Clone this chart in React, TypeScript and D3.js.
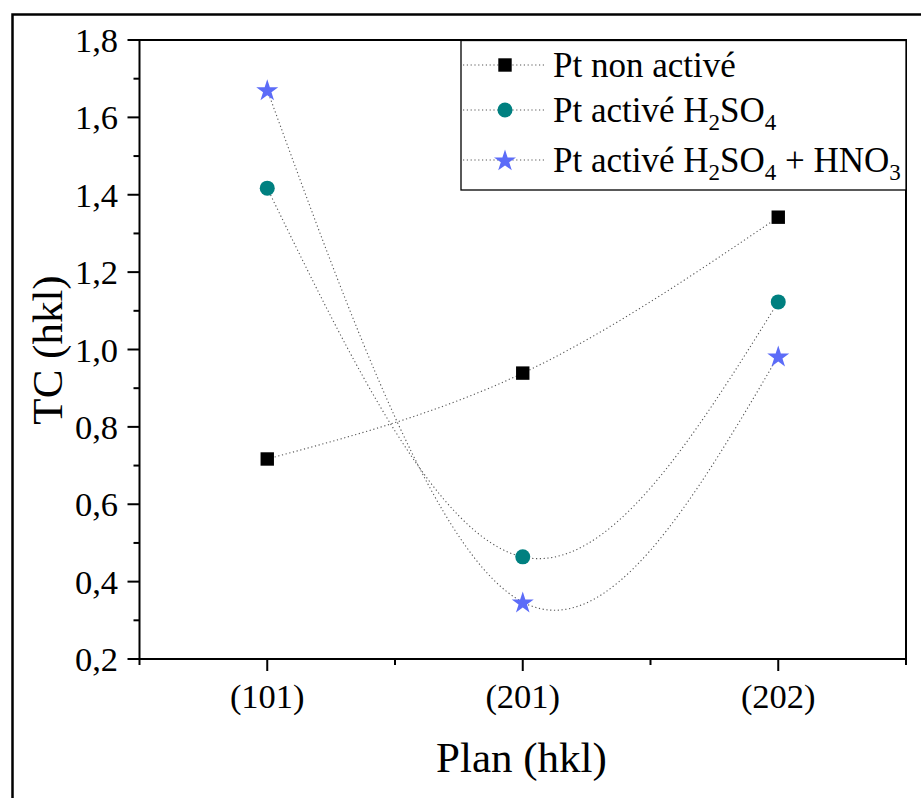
import React from "react";
import * as d3 from "d3";

const categories = ["(101)", "(201)", "(202)"];
const ptNonActive = [0.717, 0.939, 1.342];
const ptH2SO4 = [1.417, 0.464, 1.123];
const ptH2SO4HNO3 = [1.671, 0.347, 0.983];
const yTicks = [0.2, 0.4, 0.6, 0.8, 1.0, 1.2, 1.4, 1.6, 1.8];
const yMinorTicks = [0.3, 0.5, 0.7, 0.9, 1.1, 1.3, 1.5, 1.7];

const TXT = { fontFamily: "Liberation Serif, Times New Roman, serif" };

const series = [
  { key: "non", values: ptNonActive, color: "#000000", marker: "square" },
  { key: "h2so4", values: ptH2SO4, color: "#008080", marker: "circle" },
  { key: "hno3", values: ptH2SO4HNO3, color: "#5c6cf8", marker: "star" },
];

const W = 921;
const H = 798;
const left = 139.5;
const right = 906;
const top = 40;
const bottom = 659;

const x = d3.scaleLinear().domain([0.5, categories.length + 0.5]).range([left, right]);
const y = d3.scaleLinear().domain([0.2, 1.8]).range([bottom, top]);

const starPath = d3.symbol(d3.symbolStar, 150)() as string;

function Marker({ type, cx, cy, color }: { type: string; cx: number; cy: number; color: string }) {
  if (type === "square") return <rect x={cx - 6.7} y={cy - 6.7} width={13.4} height={13.4} fill={color} />;
  if (type === "circle") return <circle cx={cx} cy={cy} r={7.5} fill={color} />;
  return <path d={starPath} transform={`translate(${cx},${cy + 1})`} fill={color} />;
}

export default function App() {
  const line = d3
    .line<number>()
    .x((_, i) => x(i + 1))
    .y((d) => y(d))
    .curve(d3.curveNatural);

  const fmt = (v: number) => v.toFixed(1).replace(".", ",");
  const minorX = d3.range(0.5, categories.length + 1, 1);

  const legendRows = [
    { s: series[0], my: 65, ty: 77 },
    { s: series[1], my: 110, ty: 122 },
    { s: series[2], my: 160, ty: 172 },
  ];
  const sub = (t: string) => (
    <tspan dy={8} fontSize={23}>
      {t}
    </tspan>
  );
  const up = (t: string) => <tspan dy={-8}>{t}</tspan>;

  return (
    <svg width={W} height={H} style={{ position: "absolute", left: 0, top: 0, background: "#fff", ...TXT }}>
      <rect x={0} y={0} width={W} height={H} fill="#fff" />
      {/* outer frame */}
      <rect x={12.5} y={14.5} width={1000} height={1000} fill="none" stroke="#000" strokeWidth={2.5} />

      {/* series lines */}
      {series.map((s) => (
        <path
          key={s.key + "l"}
          d={line(s.values) as string}
          fill="none"
          stroke="#555"
          strokeWidth={1.1}
          strokeDasharray="1.2,2.6"
        />
      ))}

      {/* axes frame */}
      <rect x={left} y={top} width={right - left} height={bottom - top} fill="none" stroke="#000" strokeWidth={2} />

      {/* y ticks */}
      {yTicks.map((t) => (
        <g key={"yt" + t}>
          <line x1={left - 12} x2={left} y1={y(t)} y2={y(t)} stroke="#000" strokeWidth={2} />
          <text x={118} y={y(t) + 12} textAnchor="end" fontSize={34.5} style={TXT}>
            {fmt(t)}
          </text>
        </g>
      ))}
      {yMinorTicks.map((t) => (
        <line key={"ym" + t} x1={left - 6} x2={left} y1={y(t)} y2={y(t)} stroke="#000" strokeWidth={2} />
      ))}

      {/* x ticks */}
      {categories.map((c, i) => (
        <g key={c}>
          <line x1={x(i + 1)} x2={x(i + 1)} y1={bottom} y2={bottom + 12} stroke="#000" strokeWidth={2} />
          <text x={x(i + 1)} y={708} textAnchor="middle" fontSize={34.5} style={TXT}>
            {c}
          </text>
        </g>
      ))}
      {minorX.map((t) => (
        <line key={"xm" + t} x1={x(t)} x2={x(t)} y1={bottom} y2={bottom + 6} stroke="#000" strokeWidth={2} />
      ))}

      {/* markers */}
      {series.map((s) =>
        s.values.map((v, i) => (
          <Marker key={s.key + i} type={s.marker} cx={x(i + 1)} cy={y(v)} color={s.color} />
        ))
      )}

      {/* axis titles */}
      <text x={521.5} y={772} textAnchor="middle" fontSize={43} style={TXT}>
        Plan (hkl)
      </text>
      <text transform="translate(62,350) rotate(-90)" textAnchor="middle" fontSize={43} style={TXT}>
        TC (hkl)
      </text>

      {/* legend */}
      <rect x={461} y={40.5} width={right - 461} height={149.5} fill="#fff" stroke="#000" strokeWidth={1.3} />
      {legendRows.map(({ s, my }) => (
        <g key={"lg" + s.key}>
          <line x1={463} x2={545} y1={my} y2={my} stroke="#555" strokeWidth={1.1} strokeDasharray="1.2,2.6" />
          <Marker type={s.marker} cx={505} cy={my} color={s.color} />
        </g>
      ))}
      <text x={553} y={legendRows[0].ty} fontSize={35} style={TXT}>
        Pt non activé
      </text>
      <text x={553} y={legendRows[1].ty} fontSize={35} style={TXT}>
        Pt activé H{sub("2")}
        {up("SO")}
        {sub("4")}
      </text>
      <text x={553} y={legendRows[2].ty} fontSize={35} style={TXT}>
        Pt activé H{sub("2")}
        {up("SO")}
        {sub("4")}
        {up(" + HNO")}
        {sub("3")}
      </text>
    </svg>
  );
}
